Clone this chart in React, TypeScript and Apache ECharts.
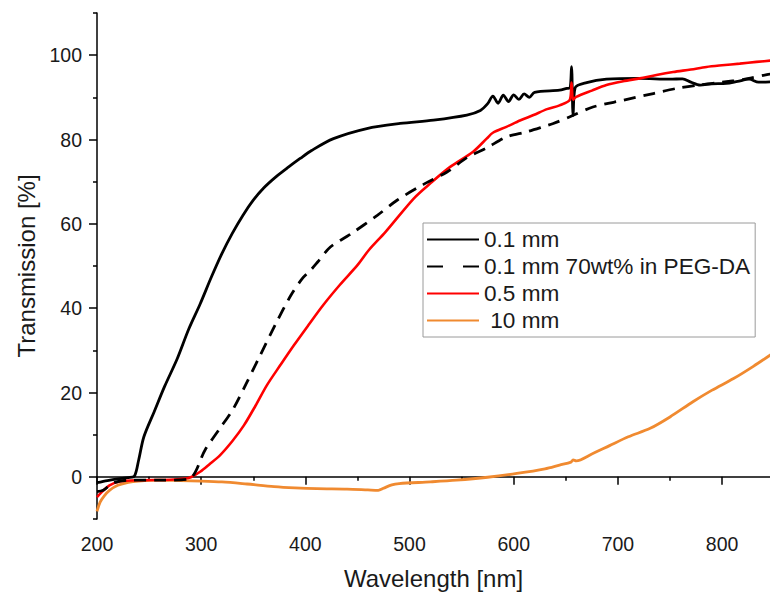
import React, { useEffect, useRef } from "react";
import * as echarts from "echarts";

// ---- data ----
const xLabelValues = [200, 300, 400, 500, 600, 700, 800];
const xMinorValues = [250, 350, 450, 550, 650, 750];
const yLabelValues = [0, 20, 40, 60, 80, 100];
const yMinorValues = [-10, 10, 30, 50, 70, 90, 110];

const seriesNames = ["0.1 mm", "0.1 mm 70wt% in PEG-DA", "0.5 mm", " 10 mm"];

const blackNm = [200, 210, 220, 230, 236, 240, 245, 255, 265, 277, 288, 299, 310, 320, 330, 340, 350, 360, 372, 384, 395, 406, 427, 459, 491, 523, 555, 568, 575, 580, 585, 590, 595, 600, 605, 610, 615, 620, 644, 651, 654, 655.5, 657, 659, 670, 689, 721, 750, 762, 770, 779, 790, 804, 815, 826, 835, 850];
const blackT = [-1.4, -0.9, -0.5, -0.2, 0.2, 4, 9.5, 15.5, 21.5, 28, 35, 41, 47.5, 53, 57.8, 62, 65.6, 68.5, 71.2, 73.5, 75.5, 77.4, 80.2, 82.6, 83.8, 84.6, 85.8, 86.9, 88.5, 90.3, 88.6, 90.5, 89, 90.6, 89.5, 90.8, 90, 91.2, 91.7, 92.1, 92.2, 97.3, 85.7, 92.3, 93.5, 94.3, 94.5, 94.3, 94.4, 93.6, 92.9, 93.2, 93.3, 93.8, 94.3, 93.6, 93.7];

const dashNm = [200, 206, 215, 229, 260, 288, 304, 318, 331, 343, 355, 371, 386, 397, 405, 412, 424, 443, 469, 488, 513, 536, 555, 574, 593, 612, 628, 638, 654, 676, 705, 734, 756, 780, 800, 820, 843, 850];
const dashT = [-3.5, -3.2, -1.5, -0.8, -0.8, -0.5, 6.5, 11.5, 16.2, 22, 28, 36, 43, 47, 49, 51, 54.5, 57.5, 62, 65.6, 69.3, 72.3, 75.7, 78, 80.6, 81.8, 83, 83.8, 85.4, 87.7, 89.3, 90.9, 92.1, 93, 93.6, 94.2, 95.4, 95.6];

const redNm = [200, 205, 212, 222, 240, 270, 285, 290, 299, 308, 318, 330, 341, 352, 363, 376, 389, 403, 417, 433, 450, 461, 477, 504, 520, 539, 561, 574, 580, 593, 606, 619, 632, 644, 654, 655.5, 657, 660, 675, 689, 705, 721, 737, 753, 770, 785, 800, 817, 833, 850];
const redT = [-4.8, -3.5, -2, -1.1, -0.8, -0.7, -0.4, -0.1, 1.2, 3, 5.1, 8.5, 12.2, 16.8, 21.7, 26.5, 31.2, 36, 40.7, 45.5, 50.2, 53.8, 58.1, 66, 69.6, 73.5, 77.1, 80.2, 81.6, 83, 84.5, 85.8, 87.2, 88.1, 89.5, 93.5, 89.4, 90.1, 91.6, 92.9, 93.8, 94.5, 95.3, 96, 96.6, 97.2, 97.6, 98, 98.4, 98.8];

const orangeNm = [200, 203, 207, 212, 220, 230, 240, 260, 280, 300, 320, 344, 370, 390, 411, 440, 460, 470, 475, 483, 490, 520, 545, 575, 603, 630, 644, 655, 657, 660, 675, 692, 710, 731, 750, 772, 790, 811, 830, 850];
const orangeT = [-8.2, -6, -4.5, -3.2, -2, -1.3, -1, -0.8, -0.9, -1, -1.2, -1.7, -2.3, -2.6, -2.8, -2.9, -3.1, -3.2, -2.7, -1.9, -1.6, -1.2, -0.8, -0.1, 0.8, 1.9, 2.8, 3.5, 4, 3.8, 5.4, 7.4, 9.5, 11.5, 14.2, 17.8, 20.5, 23.3, 26.2, 29.5];

const zip = (xs: number[], ys: number[]) => xs.map((x, i) => [x, ys[i]]);

const FONT = "'Liberation Sans', Arial, sans-serif";
const TEXT = "#1a1a1a";

export default function App() {
  const ref = useRef<HTMLDivElement>(null);
  useEffect(() => {
    if (!ref.current) return;
    const chart = echarts.init(ref.current, null, { renderer: "svg" });
    const axisLine = { show: true, lineStyle: { color: "#000", width: 1.5 } };
    const tickStyle = { color: "#000", width: 1.5 };
    chart.setOption({
      animation: false,
      backgroundColor: "#fff",
      textStyle: { fontFamily: FONT },
      grid: { left: 97, right: 0, top: 13, bottom: 74, containLabel: false },
      legend: {
        orient: "vertical",
        left: 423,
        top: 223,
        data: [
          { name: seriesNames[0] },
          { name: seriesNames[1], lineStyle: { type: [16, 20] } },
          { name: seriesNames[2] },
          { name: seriesNames[3] },
        ],
        itemWidth: 52,
        itemHeight: 14,
        itemGap: 0,
        itemStyle: { opacity: 0 },
        padding: [3, 5, 3, 3],
        borderColor: "#9a9a9a",
        borderWidth: 1,
        backgroundColor: "#fff",
        textStyle: { fontSize: 22.6, color: TEXT, fontFamily: FONT, lineHeight: 27 },
      },
      xAxis: [
        {
          type: "value",
          min: 200,
          max: 846,
          position: "bottom",
          name: "Wavelength [nm]",
          nameLocation: "middle",
          nameGap: 47,
          nameTextStyle: { fontSize: 24, color: TEXT, fontFamily: FONT },
          axisLine,
          axisTick: { show: true, length: 8, customValues: xLabelValues, lineStyle: tickStyle },
          axisLabel: { customValues: xLabelValues, fontSize: 19.5, color: TEXT, margin: 15, fontFamily: FONT },
          splitLine: { show: false },
        },
        {
          type: "value",
          min: 200,
          max: 846,
          position: "bottom",
          axisLine: { show: false },
          axisTick: { show: true, length: 4, customValues: xMinorValues, lineStyle: tickStyle },
          axisLabel: { show: false },
          splitLine: { show: false },
        },
      ],
      yAxis: [
        {
          type: "value",
          min: -10,
          max: 110,
          position: "left",
          name: "Transmission [%]",
          nameLocation: "middle",
          nameGap: 56,
          nameTextStyle: { fontSize: 24, color: TEXT, fontFamily: FONT },
          axisLine,
          axisTick: { show: true, length: 8, customValues: yLabelValues, lineStyle: tickStyle },
          axisLabel: { customValues: yLabelValues, fontSize: 19.5, color: TEXT, margin: 15, fontFamily: FONT },
          splitLine: { show: false },
        },
        {
          type: "value",
          min: -10,
          max: 110,
          position: "left",
          axisLine: { show: false },
          axisTick: { show: true, length: 4, customValues: yMinorValues, lineStyle: tickStyle },
          axisLabel: { show: false },
          splitLine: { show: false },
        },
      ],
      series: [
        {
          name: seriesNames[3],
          type: "line",
          data: zip(orangeNm, orangeT),
          showSymbol: false,
          symbol: "none",
          smooth: 0.3,
          lineStyle: { color: "#f08a30", width: 2.8 },
          itemStyle: { color: "#f08a30" },
          z: 1,
        },
        {
          name: seriesNames[0],
          type: "line",
          data: zip(blackNm, blackT),
          showSymbol: false,
          symbol: "none",
          smooth: 0.3,
          lineStyle: { color: "#000", width: 2.8 },
          itemStyle: { color: "#000" },
          z: 2,
        },
        {
          name: seriesNames[2],
          type: "line",
          data: zip(redNm, redT),
          showSymbol: false,
          symbol: "none",
          smooth: 0.3,
          lineStyle: { color: "#ff0000", width: 2.6 },
          itemStyle: { color: "#ff0000" },
          z: 3,
        },
        {
          name: seriesNames[1],
          type: "line",
          data: zip(dashNm, dashT),
          showSymbol: false,
          symbol: "none",
          smooth: 0.3,
          lineStyle: { color: "#000", width: 2.8, type: [12, 8] },
          itemStyle: { color: "#000" },
          z: 4,
        },
      ],
    });
    return () => chart.dispose();
  }, []);
  return (
    <div
      ref={ref}
      style={{ position: "fixed", left: 0, top: 0, width: 770, height: 595 }}
    />
  );
}
